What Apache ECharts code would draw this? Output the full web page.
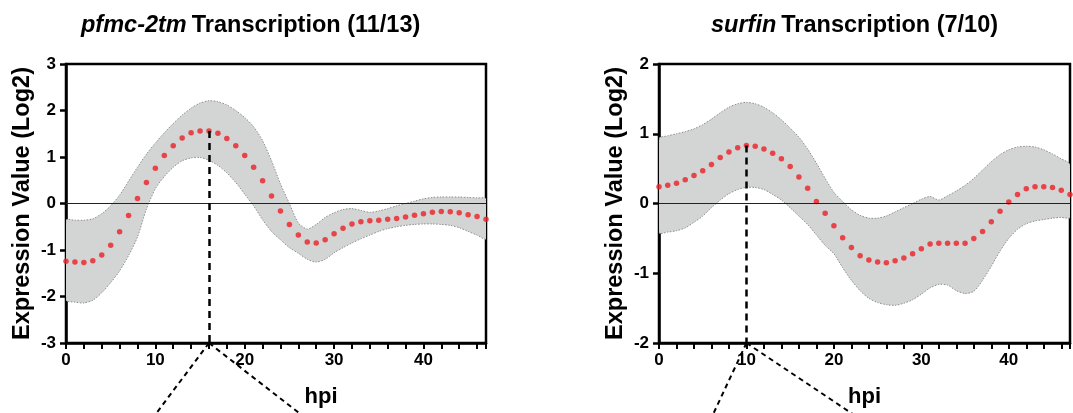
<!DOCTYPE html>
<html>
<head>
<meta charset="utf-8">
<script src="https://cdn.jsdelivr.net/npm/echarts@6/dist/echarts.min.js"></script>
<style>
  html, body { margin: 0; padding: 0; background: #fff; }
  #chart { width: 1073px; height: 413px; }
</style>
</head>
<body>
<div id="chart"></div>
<script>
// hours post infection (x positions of every point)
const HOURS = [0,1,2,3,4,5,6,7,8,9,10,11,12,13,14,15,16,17,18,19,20,21,22,23,
  24,25,26,27,28,29,30,31,32,33,34,35,36,37,38,39,40,41,42,43,44,45,46,47];

// pfmc-2tm
const PFMC_MEAN = [-1.24,-1.26,-1.27,-1.23,-1.11,-0.90,-0.61,-0.26,0.11,0.45,0.76,1.03,
  1.24,1.41,1.52,1.56,1.56,1.51,1.40,1.24,1.03,0.78,0.49,0.16,
  -0.16,-0.45,-0.68,-0.83,-0.85,-0.78,-0.65,-0.53,-0.44,-0.39,-0.37,-0.36,
  -0.34,-0.32,-0.29,-0.25,-0.22,-0.19,-0.17,-0.18,-0.20,-0.24,-0.28,-0.34];
const PFMC_UPPER = [-0.36,-0.36,-0.36,-0.33,-0.22,-0.05,0.18,0.48,0.78,1.06,1.30,1.52,
  1.72,1.90,2.05,2.16,2.21,2.19,2.12,2.00,1.85,1.65,1.35,0.92,
  0.42,0.00,-0.42,-0.55,-0.45,-0.30,-0.20,-0.13,-0.11,-0.15,-0.19,-0.16,
  -0.11,-0.05,0.00,0.05,0.10,0.13,0.14,0.14,0.14,0.13,0.12,0.10];
const PFMC_LOWER = [-2.08,-2.12,-2.14,-2.08,-1.92,-1.70,-1.45,-1.12,-0.72,-0.12,0.32,0.58,
  0.78,0.92,0.98,0.99,0.93,0.82,0.66,0.45,0.20,-0.05,-0.35,-0.60,
  -0.78,-0.95,-1.07,-1.20,-1.26,-1.20,-1.06,-0.95,-0.85,-0.76,-0.68,-0.60,
  -0.54,-0.50,-0.47,-0.45,-0.44,-0.44,-0.45,-0.47,-0.52,-0.60,-0.68,-0.76];
const PFMC_PEAK = [16, 1.56];
const PFMC_ZOOM_ENDS = [[8.2, -5], [29.4, -5]];

// surfin
const SURFIN_MEAN = [0.24,0.26,0.29,0.34,0.40,0.47,0.56,0.66,0.74,0.80,0.83,0.82,
  0.78,0.72,0.64,0.53,0.38,0.22,0.03,-0.14,-0.32,-0.49,-0.63,-0.75,
  -0.81,-0.84,-0.85,-0.82,-0.78,-0.72,-0.65,-0.58,-0.57,-0.57,-0.57,-0.57,
  -0.50,-0.40,-0.26,-0.11,0.02,0.13,0.21,0.24,0.24,0.23,0.19,0.13];
const SURFIN_UPPER = [0.93,0.97,1.00,1.03,1.07,1.13,1.21,1.30,1.38,1.43,1.45,1.43,
  1.38,1.30,1.20,1.08,0.95,0.78,0.58,0.36,0.16,0.03,-0.09,-0.17,
  -0.21,-0.21,-0.18,-0.12,-0.06,0.00,0.06,0.10,0.05,0.11,0.18,0.26,
  0.36,0.48,0.60,0.70,0.77,0.81,0.82,0.81,0.77,0.71,0.64,0.56];
const SURFIN_LOWER = [-0.42,-0.41,-0.39,-0.35,-0.27,-0.18,-0.06,0.05,0.14,0.20,0.23,0.23,
  0.20,0.13,0.05,-0.06,-0.18,-0.30,-0.45,-0.60,-0.72,-0.92,-1.10,-1.25,
  -1.36,-1.42,-1.45,-1.46,-1.43,-1.38,-1.30,-1.21,-1.16,-1.17,-1.25,-1.29,
  -1.26,-1.10,-0.90,-0.68,-0.50,-0.37,-0.29,-0.25,-0.23,-0.21,-0.20,-0.20];
const SURFIN_PEAK = [10, 0.83];
const SURFIN_ZOOM_ENDS = [[4.4, -3.5], [27.9, -3.5]];

const PFMC_Y = [-3, 3];
const SURFIN_Y = [-2, 2];
const X_LABEL_STEP = 10;   // labelled every 10 h, ticked every 2 h

const FONT = "'Liberation Sans', Arial, sans-serif";
const BAND_FILL = '#d3d4d4';
const BAND_EDGE = '#8f8f8f';
const DOT_RED = '#ec1f26';

const pairs = (ys) => HOURS.map((h, i) => [h, ys[i]]);

function xAxis(grid, nameShift) {
  return {
    gridIndex: grid, type: 'value', min: 0, max: 47, interval: 2,
    axisLine: { show: true, onZero: false, lineStyle: { color: '#000', width: 2.5 } },
    axisTick: { show: true, length: 6, lineStyle: { color: '#000', width: 2 } },
    axisLabel: {
      color: '#000', fontFamily: FONT, fontWeight: 'bold', fontSize: 17, margin: 9,
      formatter: (v) => (v % X_LABEL_STEP === 0 ? String(v) : '')
    },
    splitLine: { show: false },
    name: 'hpi', nameLocation: 'middle', nameGap: 43,
    nameTextStyle: { color: '#000', fontFamily: FONT, fontWeight: 'bold', fontSize: 22,
      padding: [0, 0, 0, nameShift] }
  };
}

function yAxis(grid, range) {
  return {
    gridIndex: grid, type: 'value', min: range[0], max: range[1], interval: 1,
    axisLine: { show: true, lineStyle: { color: '#000', width: 2.5 } },
    axisTick: { show: true, length: 6, lineStyle: { color: '#000', width: 2.5 } },
    axisLabel: { color: '#000', fontFamily: FONT, fontWeight: 'bold', fontSize: 17, margin: 10 },
    splitLine: { show: false },
    name: 'Expression Value (Log2)', nameLocation: 'middle', nameGap: 31,
    nameTextStyle: { color: '#000', fontFamily: FONT, fontWeight: 'bold', fontSize: 23.5 }
  };
}

function panelSeries(idx, mean, upper, lower, peak, yMin) {
  return [
    { // zero reference line, under the band
      type: 'line', xAxisIndex: idx, yAxisIndex: idx, data: [], z: 1, silent: true,
      markLine: { symbol: 'none', silent: true, label: { show: false },
        lineStyle: { color: '#222', width: 1, type: 'solid' }, data: [{ yAxis: 0 }] }
    },
    { // shaded band between upper and lower curves
      type: 'custom', xAxisIndex: idx, yAxisIndex: idx, z: 2, silent: true, clip: true,
      data: [[0, 0]],
      renderItem: (params, api) => {
        const top = HOURS.map((h, i) => api.coord([h, upper[i]]));
        const bottom = HOURS.map((h, i) => api.coord([h, lower[i]])).reverse();
        return {
          type: 'polygon',
          shape: { points: top.concat(bottom), smooth: 0.25 },
          style: { fill: BAND_FILL, stroke: BAND_EDGE, lineWidth: 1, lineDash: [1.5, 1.5] }
        };
      }
    },
    { // dashed drop line at the peak
      type: 'line', xAxisIndex: idx, yAxisIndex: idx, data: [], z: 3, silent: true,
      markLine: { symbol: 'none', silent: true, label: { show: false },
        lineStyle: { color: '#000', width: 2.5, type: [7, 5] },
        data: [[{ coord: [peak[0], peak[1]] }, { coord: [peak[0], yMin] }]] }
    },
    {
      type: 'scatter', xAxisIndex: idx, yAxisIndex: idx, z: 4,
      data: pairs(mean), symbolSize: 5.5, itemStyle: { color: DOT_RED }
    }
  ];
}

const chart = echarts.init(document.getElementById('chart'), null, { renderer: 'canvas' });

const titleRich = {
  i: { fontFamily: FONT, fontWeight: 'bold', fontStyle: 'italic', fontSize: 23.5, color: '#000' },
  b: { fontFamily: FONT, fontWeight: 'bold', fontSize: 23.5, color: '#000' }
};

chart.setOption({
  animation: false,
  backgroundColor: '#fff',
  title: [
    { text: '{i|pfmc-2tm} {b|Transcription (11/13)}', left: 76, top: 9, textStyle: { rich: titleRich } },
    { text: '{i|surfin} {b|Transcription (7/10)}', left: 706, top: 9, textStyle: { rich: titleRich } }
  ],
  grid: [
    { left: 66, top: 64, width: 420, height: 279, show: true, borderColor: '#000', borderWidth: 2.5 },
    { left: 659, top: 64, width: 420, height: 279, show: true, borderColor: '#000', borderWidth: 2.5 }
  ],
  xAxis: [xAxis(0, 90), xAxis(1, 0)],
  yAxis: [yAxis(0, PFMC_Y), yAxis(1, SURFIN_Y)],
  series: [
    ...panelSeries(0, PFMC_MEAN, PFMC_UPPER, PFMC_LOWER, PFMC_PEAK, PFMC_Y[0]),
    ...panelSeries(1, SURFIN_MEAN, SURFIN_UPPER, SURFIN_LOWER, SURFIN_PEAK, SURFIN_Y[0])
  ]
});

// dashed zoom-out connectors running below each x axis
function connectors(idx, peak, yMin, ends) {
  const finder = { xAxisIndex: idx, yAxisIndex: idx };
  const start = chart.convertToPixel(finder, [peak[0], yMin]);
  return ends.map((end) => {
    const p = chart.convertToPixel(finder, end);
    return {
      type: 'line', z: 10, silent: true,
      shape: { x1: start[0], y1: start[1], x2: p[0], y2: p[1] },
      style: { stroke: '#000', lineWidth: 2, lineDash: [5, 4] }
    };
  });
}

chart.setOption({
  graphic: [
    ...connectors(0, PFMC_PEAK, PFMC_Y[0], PFMC_ZOOM_ENDS),
    ...connectors(1, SURFIN_PEAK, SURFIN_Y[0], SURFIN_ZOOM_ENDS)
  ]
});
</script>
</body>
</html>
